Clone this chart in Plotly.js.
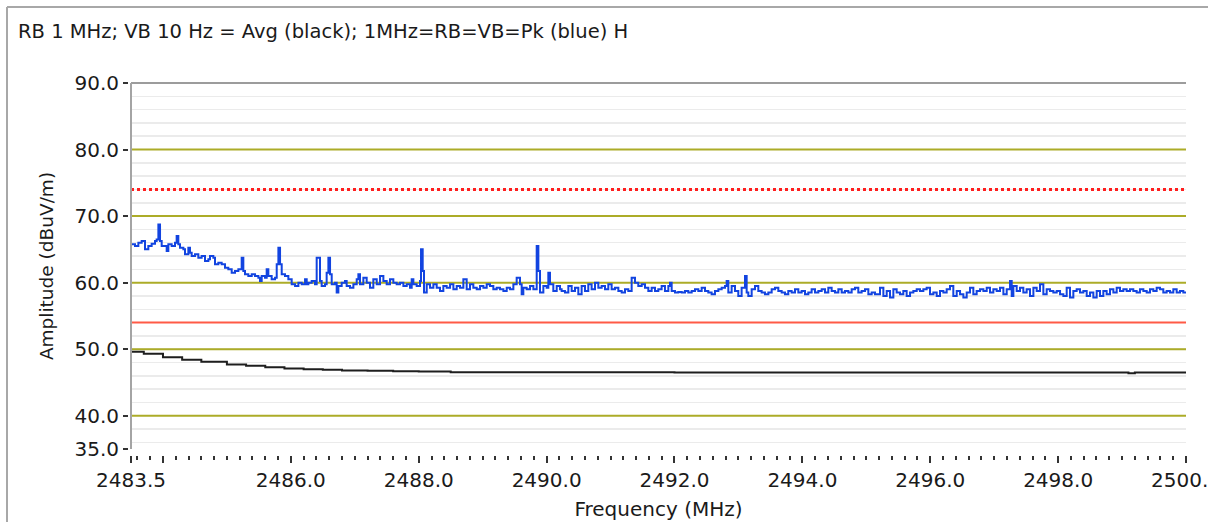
<!DOCTYPE html>
<html>
<head>
<meta charset="utf-8">
<script src="https://cdn.plot.ly/plotly-3.0.1.min.js"></script>
<style>
  html, body { margin: 0; padding: 0; background: #ffffff; }
  #chart { width: 1208px; height: 522px; }
</style>
</head>
<body>
<div id="chart"></div>
<script>
// ---------- chart text ----------
const chartTitle = 'RB 1 MHz; VB 10 Hz = Avg (black); 1MHz=RB=VB=Pk (blue) H';
const xTitle = 'Frequency (MHz)';
const yTitle = 'Amplitude (dBuV/m)';

// ---------- axes ----------
const freqRange = [2483.5, 2500];
const levelRange = [35, 90];
const xTickVals = [2483.5, 2484, 2486, 2488, 2490, 2492, 2494, 2496, 2498, 2500];
const xTickText = ['2483.5', '', '2486.0', '2488.0', '2490.0', '2492.0', '2494.0', '2496.0', '2498.0', '2500.0'];
const yTickVals = [35, 40, 50, 60, 70, 80, 90];
const yTickText = ['35.0', '40.0', '50.0', '60.0', '70.0', '80.0', '90.0'];
const majorGridLevels = [40, 50, 60, 70, 80];

// ---------- limits (dBuV/m) ----------
const peakLimit = 74;
const avgLimit = 54;

// ---------- average trace (black) ----------
const avgFreq = [2483.5, 2483.7, 2484.0, 2484.3, 2484.6, 2485.0, 2485.3, 2485.6, 2485.9, 2486.2,
                 2486.5, 2486.8, 2487.2, 2487.6, 2488.0, 2488.5, 2489.0, 2490.0, 2491.0, 2492.0,
                 2493.0, 2494.0, 2495.0, 2496.0, 2497.0, 2498.0, 2499.0, 2499.1, 2499.2, 2500.0];
const avgLevel = [49.6, 49.3, 48.8, 48.4, 48.1, 47.7, 47.5, 47.3, 47.1, 47.0,
                  46.9, 46.8, 46.75, 46.7, 46.65, 46.55, 46.55, 46.55, 46.55, 46.5,
                  46.5, 46.5, 46.5, 46.5, 46.5, 46.5, 46.5, 46.4, 46.5, 46.35];

// ---------- peak trace (blue), 2483.5 - 2486.85 MHz ----------
const peakFreqA = [2483.51, 2483.563, 2483.615, 2483.667, 2483.719, 2483.771, 2483.823, 2483.875, 2483.901, 2483.928,
                   2483.954, 2483.98, 2484.032, 2484.058, 2484.084, 2484.136, 2484.188, 2484.214, 2484.24, 2484.266,
                   2484.319, 2484.345, 2484.397, 2484.423, 2484.449, 2484.501, 2484.553, 2484.605, 2484.657, 2484.71,
                   2484.736, 2484.788, 2484.814, 2484.866, 2484.918, 2484.97, 2485.022, 2485.075, 2485.127, 2485.179,
                   2485.231, 2485.257, 2485.283, 2485.335, 2485.388, 2485.44, 2485.492, 2485.518, 2485.544, 2485.596,
                   2485.622, 2485.648, 2485.7, 2485.753, 2485.779, 2485.805, 2485.831, 2485.857, 2485.909, 2485.961,
                   2486.013, 2486.066, 2486.118, 2486.17, 2486.222, 2486.248, 2486.274, 2486.326, 2486.378, 2486.404,
                   2486.43, 2486.456, 2486.482, 2486.534, 2486.56, 2486.587, 2486.613, 2486.639, 2486.691, 2486.717,
                   2486.743, 2486.795, 2486.847];
const peakLevelA = [65.75, 65.5, 66.0, 66.25, 65.0, 65.5, 65.85, 66.25, 66.5, 68.75,
                    66.25, 65.5, 65.5, 64.75, 65.75, 65.5, 66.0, 67.0, 65.75, 65.25,
                    65.0, 64.25, 65.25, 64.5, 64.0, 64.25, 63.75, 64.0, 63.25, 63.5,
                    64.0, 63.75, 62.75, 63.0, 62.75, 62.25, 62.0, 61.5, 61.75, 62.0,
                    63.75, 61.75, 61.25, 61.0, 61.25, 61.0, 60.75, 60.25, 61.0, 60.75,
                    62.0, 61.0, 60.5, 60.75, 62.75, 65.25, 62.75, 61.25, 61.0, 60.5,
                    59.75, 59.5, 60.0, 59.75, 60.5, 59.75, 60.0, 60.25, 59.75, 63.75,
                    63.75, 60.25, 59.5, 59.75, 61.5, 63.75, 61.25, 59.75, 60.0, 58.5,
                    59.5, 60.0, 60.25];

// ---------- peak trace (blue), 2486.85 - 2490.2 MHz ----------
const peakFreqB = [2486.873, 2486.925, 2486.978, 2487.03, 2487.056, 2487.082, 2487.134, 2487.186, 2487.238, 2487.29,
                   2487.343, 2487.395, 2487.447, 2487.499, 2487.551, 2487.603, 2487.655, 2487.707, 2487.76, 2487.812,
                   2487.864, 2487.89, 2487.916, 2487.968, 2488.02, 2488.036, 2488.062, 2488.083, 2488.125, 2488.177,
                   2488.229, 2488.281, 2488.333, 2488.385, 2488.437, 2488.49, 2488.542, 2488.594, 2488.646, 2488.698,
                   2488.75, 2488.802, 2488.854, 2488.907, 2488.959, 2489.011, 2489.063, 2489.115, 2489.167, 2489.219,
                   2489.271, 2489.324, 2489.376, 2489.428, 2489.48, 2489.532, 2489.584, 2489.61, 2489.636, 2489.688,
                   2489.741, 2489.793, 2489.845, 2489.871, 2489.897, 2489.949, 2490.001, 2490.027, 2490.053, 2490.105,
                   2490.158, 2490.21];
const peakLevelB = [59.5, 59.25, 59.75, 60.5, 61.25, 59.75, 60.75, 60.0, 59.25, 60.5,
                    59.75, 61.0, 60.25, 59.75, 60.5, 60.0, 59.75, 60.0, 59.5, 59.75,
                    59.25, 60.5, 59.75, 59.5, 60.25, 65.0, 61.75, 58.5, 59.75, 59.25,
                    59.75, 59.25, 58.75, 59.5, 59.25, 59.75, 59.0, 59.5, 59.25, 60.5,
                    59.0, 59.75, 59.25, 59.0, 59.5, 59.25, 59.75, 59.5, 59.0, 59.25,
                    59.0, 58.75, 59.25, 59.0, 59.75, 60.75, 59.75, 58.25, 59.25, 59.0,
                    59.5, 59.0, 65.5, 61.75, 58.5, 59.5, 59.25, 61.5, 59.75, 58.75,
                    59.5, 59.0];

// ---------- peak trace (blue), 2490.2 - 2495.1 MHz ----------
const peakFreqC = [2490.235, 2490.287, 2490.34, 2490.392, 2490.444, 2490.496, 2490.548, 2490.6, 2490.652, 2490.704,
                   2490.757, 2490.809, 2490.861, 2490.913, 2490.965, 2491.017, 2491.069, 2491.122, 2491.174, 2491.226,
                   2491.278, 2491.33, 2491.382, 2491.434, 2491.487, 2491.539, 2491.591, 2491.643, 2491.695, 2491.747,
                   2491.799, 2491.851, 2491.904, 2491.93, 2491.956, 2492.008, 2492.06, 2492.112, 2492.164, 2492.216,
                   2492.269, 2492.321, 2492.373, 2492.425, 2492.477, 2492.529, 2492.581, 2492.633, 2492.686, 2492.738,
                   2492.79, 2492.816, 2492.842, 2492.894, 2492.946, 2492.998, 2493.05, 2493.103, 2493.129, 2493.155,
                   2493.207, 2493.259, 2493.311, 2493.363, 2493.415, 2493.468, 2493.52, 2493.572, 2493.624, 2493.676,
                   2493.728, 2493.78, 2493.832, 2493.885, 2493.937, 2493.989, 2494.041, 2494.093, 2494.145, 2494.198,
                   2494.25, 2494.302, 2494.354, 2494.406, 2494.458, 2494.51, 2494.563, 2494.615, 2494.667, 2494.719,
                   2494.771, 2494.823, 2494.875, 2494.927, 2494.98, 2495.032, 2495.084];
const peakLevelC = [58.75, 58.5, 59.5, 58.75, 59.25, 58.25, 59.5, 58.75, 59.75, 59.0,
                    60.0, 59.25, 59.5, 59.0, 59.75, 59.0, 59.25, 58.75, 58.5, 59.0,
                    58.75, 60.75, 60.0, 59.5, 59.75, 59.25, 58.75, 59.25, 58.75, 59.0,
                    59.5, 58.75, 59.5, 60.0, 58.75, 58.5, 58.6, 58.5, 58.75, 58.5,
                    58.75, 59.0, 58.75, 59.25, 58.75, 58.5, 58.25, 58.75, 59.0, 59.25,
                    59.5, 60.25, 58.5, 59.5, 58.75, 58.0, 59.25, 61.0, 58.5, 58.0,
                    59.0, 59.5, 58.75, 58.5, 58.25, 58.5, 59.0, 59.25, 58.75, 58.5,
                    58.25, 58.75, 58.5, 59.0, 58.5, 58.75, 58.25, 58.5, 59.0, 58.5,
                    58.75, 59.0, 58.5, 59.25, 58.75, 58.5, 59.0, 58.5, 58.75, 58.5,
                    59.0, 59.25, 58.5, 58.75, 59.0, 58.25, 58.5];

// ---------- peak trace (blue), 2495.1 - 2500 MHz ----------
const peakFreqD = [2495.136, 2495.214, 2495.267, 2495.319, 2495.371, 2495.423, 2495.475, 2495.527, 2495.579, 2495.631,
                   2495.684, 2495.736, 2495.788, 2495.84, 2495.892, 2495.944, 2495.996, 2496.049, 2496.101, 2496.153,
                   2496.205, 2496.257, 2496.309, 2496.361, 2496.414, 2496.466, 2496.518, 2496.57, 2496.622, 2496.674,
                   2496.726, 2496.779, 2496.831, 2496.883, 2496.935, 2496.987, 2497.039, 2497.091, 2497.144, 2497.196,
                   2497.248, 2497.274, 2497.3, 2497.352, 2497.404, 2497.456, 2497.508, 2497.56, 2497.613, 2497.665,
                   2497.717, 2497.769, 2497.821, 2497.873, 2497.925, 2497.978, 2498.03, 2498.082, 2498.134, 2498.186,
                   2498.238, 2498.29, 2498.342, 2498.395, 2498.447, 2498.499, 2498.551, 2498.603, 2498.655, 2498.707,
                   2498.759, 2498.811, 2498.864, 2498.916, 2498.968, 2499.02, 2499.072, 2499.124, 2499.176, 2499.228,
                   2499.28, 2499.333, 2499.385, 2499.437, 2499.489, 2499.541, 2499.593, 2499.645, 2499.697, 2499.75,
                   2499.802, 2499.854, 2499.906, 2499.958, 2500.0];
const peakLevelD = [58.25, 59.25, 58.0, 58.75, 57.75, 59.0, 58.5, 58.25, 58.75, 58.0,
                    58.5, 58.75, 59.0, 58.75, 59.0, 59.25, 58.25, 58.5, 58.0, 58.75,
                    58.5, 59.0, 59.5, 58.0, 58.75, 58.25, 57.75, 58.5, 59.25, 58.25,
                    58.75, 59.0, 58.75, 59.25, 58.5, 59.0, 58.75, 59.25, 58.25, 59.0,
                    60.25, 58.0, 59.5, 58.75, 59.25, 58.5, 59.0, 58.0, 59.25, 58.75,
                    59.75, 58.25, 59.0, 58.75, 58.5, 58.75, 58.25, 58.0, 59.25, 57.75,
                    58.75, 59.0, 58.5, 58.75, 58.0, 58.5, 57.75, 58.75, 58.0, 58.75,
                    58.25, 59.0, 58.5, 59.25, 58.75, 59.0, 58.75, 59.0, 58.75, 58.5,
                    59.0, 58.75, 58.5, 59.0, 58.75, 59.25, 59.0, 58.5, 58.75, 58.5,
                    59.0, 58.5, 58.75, 58.5, 58.6];

// ---------- assemble ----------
const pairs = [[peakFreqA, peakLevelA], [peakFreqB, peakLevelB], [peakFreqC, peakLevelC], [peakFreqD, peakLevelD], [avgFreq, avgLevel]];
pairs.forEach(function (p, i) {
  if (p[0].length !== p[1].length) {
    throw new Error('length mismatch in block ' + i + ': ' + p[0].length + ' vs ' + p[1].length);
  }
});
const peakFreq = [].concat(peakFreqA, peakFreqB, peakFreqC, peakFreqD);
const peakLevel = [].concat(peakLevelA, peakLevelB, peakLevelC, peakLevelD);

// major (olive) grid lines as one broken line trace
const gridX = [], gridY = [];
majorGridLevels.forEach(function (lv) {
  gridX.push(freqRange[0], freqRange[1], null);
  gridY.push(lv, lv, null);
});

// ---------- geometry (pixels in a 1208 x 522 page) ----------
const W = 1208, H = 522;
const M = { l: 110, r: 22, t: 83, b: 60 };
const plotW = W - M.l - M.r;   // 1076
const plotH = H - M.t - M.b;   // 379
const px2paperX = function (px) { return (px - M.l) / plotW; };
const px2paperY = function (py) { return (H - M.b - py) / plotH; };

const FONT = 'DejaVu Sans, Verdana, sans-serif';
const TXT = '#1a1a1a';

const traces = [
  {
    x: gridX, y: gridY,
    type: 'scatter', mode: 'lines',
    line: { color: '#acac28', width: 2 },
    hoverinfo: 'skip', name: 'grid', connectgaps: false
  },
  {
    x: freqRange, y: [avgLimit, avgLimit],
    type: 'scatter', mode: 'lines',
    line: { color: '#ff5a46', width: 2 },
    hoverinfo: 'skip', name: 'Avg limit'
  },
  {
    x: freqRange, y: [peakLimit, peakLimit],
    type: 'scatter', mode: 'lines',
    line: { color: '#ff1e1e', width: 3, dash: 'dot' },
    hoverinfo: 'skip', name: 'Peak limit'
  },
  {
    x: avgFreq, y: avgLevel,
    type: 'scatter', mode: 'lines',
    line: { color: '#1e1e1e', width: 2, shape: 'hv' },
    name: 'Avg'
  },
  {
    x: peakFreq, y: peakLevel,
    type: 'scatter', mode: 'lines',
    line: { color: '#1244e0', width: 2, shape: 'hv' },
    name: 'Pk'
  }
];

const shapes = [];
// plot frame (top and left)
shapes.push({ type: 'line', xref: 'x domain', yref: 'y domain', x0: 0, x1: 1, y0: 1, y1: 1,
  line: { color: '#9c9c9c', width: 2 }, layer: 'above' });
shapes.push({ type: 'line', xref: 'x domain', yref: 'y domain', x0: 0, x1: 0, y0: 0, y1: 1,
  line: { color: '#a4a4a4', width: 2 }, layer: 'above' });
// outer panel border (top and left)
shapes.push({ type: 'line', xref: 'paper', yref: 'paper',
  x0: px2paperX(7), x1: px2paperX(W + 5), y0: px2paperY(7), y1: px2paperY(7),
  line: { color: '#a8a8a8', width: 2 } });
shapes.push({ type: 'line', xref: 'paper', yref: 'paper',
  x0: px2paperX(7), x1: px2paperX(7), y0: px2paperY(7), y1: px2paperY(H + 5),
  line: { color: '#a8a8a8', width: 2 } });

const layout = {
  width: W, height: H,
  margin: M,
  paper_bgcolor: '#ffffff',
  plot_bgcolor: '#ffffff',
  showlegend: false,
  font: { family: FONT, color: TXT, size: 20 },
  title: {
    text: chartTitle,
    font: { family: FONT, size: 19.5, color: TXT },
    xref: 'container', yref: 'container',
    x: 18 / W, xanchor: 'left',
    y: 1 - 31 / H, yanchor: 'middle'
  },
  xaxis: {
    range: freqRange,
    domain: [px2paperX(131), 1],
    anchor: 'free',
    position: px2paperY(455),
    tickmode: 'array', tickvals: xTickVals, ticktext: xTickText,
    ticks: 'outside', ticklen: 7, tickwidth: 2, tickcolor: '#333333',
    tickfont: { family: FONT, size: 20, color: TXT },
    ticklabeloverflow: 'allow',
    minor: { tick0: 2483.6, dtick: 0.2, ticks: 'outside', ticklen: 4, tickwidth: 2,
             tickcolor: '#333333', showgrid: false },
    showgrid: false, zeroline: false, showline: false,
    automargin: false,
    title: { text: xTitle, font: { family: FONT, size: 20, color: TXT }, standoff: 10 }
  },
  yaxis: {
    range: levelRange,
    domain: [px2paperY(449), 1],
    anchor: 'free',
    position: px2paperX(128),
    tickmode: 'array', tickvals: yTickVals, ticktext: yTickText,
    ticks: 'outside', ticklen: 5, tickwidth: 2, tickcolor: '#333333',
    tickfont: { family: FONT, size: 20, color: TXT },
    minor: { tick0: 0, dtick: 2, ticks: '', showgrid: true, gridcolor: '#ebebeb', gridwidth: 1.5 },
    showgrid: false, zeroline: false, showline: false,
    automargin: false,
    title: { text: yTitle, font: { family: FONT, size: 18.5, color: TXT }, standoff: 14 }
  },
  shapes: shapes
};

Plotly.newPlot('chart', traces, layout, { displayModeBar: false, staticPlot: true });
</script>
</body>
</html>
